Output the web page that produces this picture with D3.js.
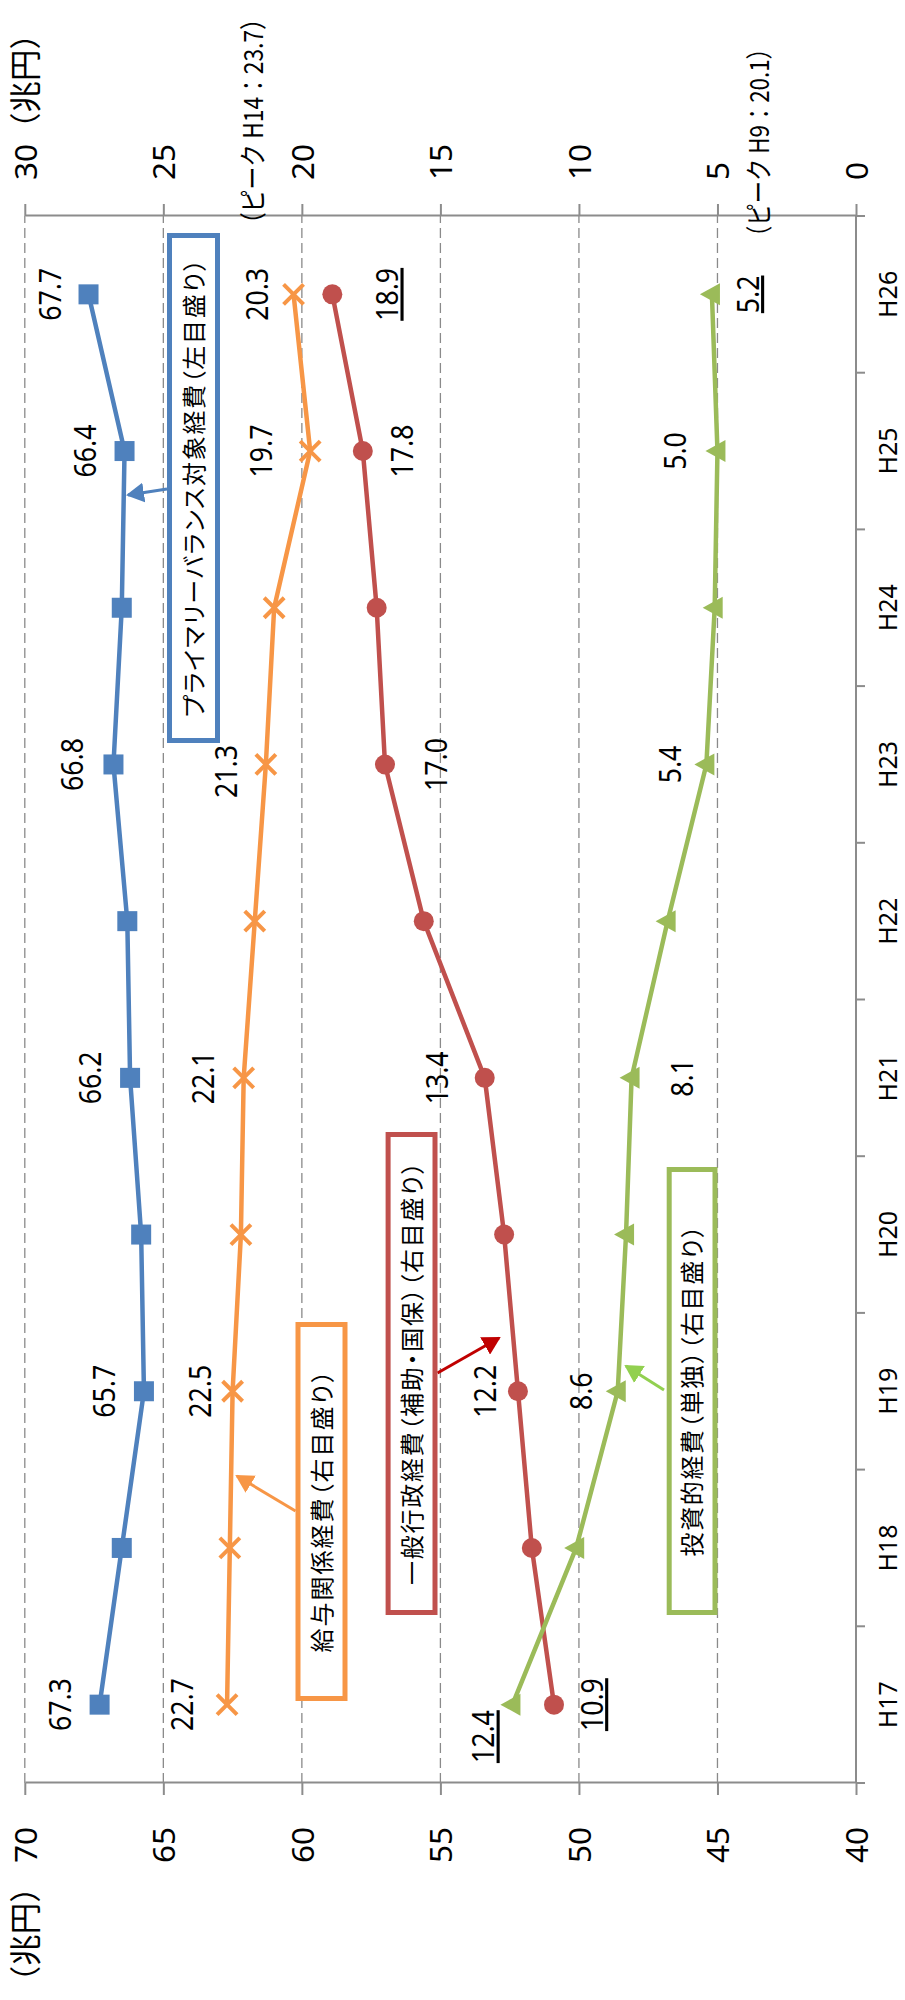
<!DOCTYPE html>
<html>
<head>
<meta charset="utf-8">
<script src="https://cdn.jsdelivr.net/npm/d3@7"></script>
<style>
  body { margin: 0; background: #fff; }
  svg { display: block; }
</style>
</head>
<body>
<svg id="chart" width="905" height="2000"></svg>
<script>
// Fiscal years (Heisei) and spending series, in trillion yen
const categories = ["H17", "H18", "H19", "H20", "H21", "H22", "H23", "H24", "H25", "H26"];
const primaryBalance = [67.3, 66.5, 65.7, 65.8, 66.2, 66.3, 66.8, 66.5, 66.4, 67.7]; // left axis
const salaryCosts    = [22.7, 22.6, 22.5, 22.2, 22.1, 21.7, 21.3, 21.0, 19.7, 20.3]; // right axis
const generalAdmin   = [10.9, 11.7, 12.2, 12.7, 13.4, 15.6, 17.0, 17.3, 17.8, 18.9]; // right axis
const investment     = [12.4, 10.1, 8.6, 8.3, 8.1, 6.8, 5.4, 5.1, 5.0, 5.2];          // right axis

const labelledYears = ["H17", "H19", "H21", "H23", "H25", "H26"];
const underlinedYears = ["H17", "H26"];
const leftTicks = [40, 45, 50, 55, 60, 65, 70];
const rightTicks = [0, 5, 10, 15, 20, 25, 30];
const seriesNames = [
  "プライマリーバランス対象経費（左目盛り）",
  "給与関係経費（右目盛り）",
  "一般行政経費（補助・国保）（右目盛り）",
  "投資的経費（単独）（右目盛り）"
];
const peakNotes = ["（ピーク H14：23.7）", "（ピーク H9：20.1）"];

// The chart is laid out in landscape (2000 x 905) and turned a quarter turn.
const W = 2000, H = 905;
const plot = { left: 217, right: 1784, top: 24.8, bottom: 856 };
const latin = "'Noto Sans', 'Noto Sans CJK JP', sans-serif";
const cjk = "'Noto Sans CJK JP', 'Noto Sans', sans-serif";
const axisGray = "#8c8c8c";

const svg = d3.select("#chart");
const g = svg.append("g").attr("transform", `translate(0,${W}) rotate(-90)`);

const defs = svg.append("defs");

const x = d3.scaleBand().domain(categories).range([plot.left, plot.right]);
const cx = c => x(c) + x.bandwidth() / 2;
const yL = d3.scaleLinear().domain([40, 70]).range([plot.bottom, plot.top]);
const yR = d3.scaleLinear().domain([0, 30]).range([plot.bottom, plot.top]);

// dashed gridlines
g.append("g").selectAll("line")
  .data(leftTicks.filter(v => v > 40))
  .join("line")
  .attr("x1", plot.left).attr("x2", plot.right)
  .attr("y1", d => yL(d)).attr("y2", d => yL(d))
  .attr("stroke", "#8a8a8a").attr("stroke-width", 1.3)
  .attr("stroke-dasharray", "10,5");

function styleAxis(sel, size) {
  sel.selectAll(".domain").attr("stroke", axisGray).attr("stroke-width", 2);
  sel.selectAll(".tick line").attr("stroke", axisGray).attr("stroke-width", 2);
  sel.selectAll(".tick text")
    .attr("fill", "#000")
    .style("font-family", latin)
    .style("font-size", size + "px");
}

// left value axis
const axL = g.append("g").attr("transform", `translate(${plot.left},0)`)
  .call(d3.axisLeft(yL).tickValues(leftTicks).tickSize(12).tickSizeOuter(0).tickPadding(32)
    .tickFormat(d => d === 70 ? "（兆円） 70" : d));
styleAxis(axL, 31.5);
axL.selectAll(".tick text").attr("dy", "0.36em");

// right value axis
const axR = g.append("g").attr("transform", `translate(${plot.right},0)`)
  .call(d3.axisRight(yR).tickValues(rightTicks).tickSize(12).tickSizeOuter(0).tickPadding(24)
    .tickFormat(d => d === 30 ? "30（兆円）" : d));
styleAxis(axR, 31.5);
axR.selectAll(".tick text").attr("dy", "0.36em");

// category axis: labels at band centres, ticks on band boundaries
const axB = g.append("g").attr("transform", `translate(0,${plot.bottom})`)
  .call(d3.axisBottom(x).tickSize(0).tickPadding(23));
styleAxis(axB, 25);
axB.selectAll(".domain").attr("d", `M${plot.left},0H${plot.right}`);
axB.selectAll(".tick text").attr("dy", "0.71em");
axB.append("g").selectAll("line")
  .data(categories.map(c => x(c)).concat([plot.right]))
  .join("line")
  .attr("x1", d => d).attr("x2", d => d)
  .attr("y1", 0).attr("y2", 9)
  .attr("stroke", axisGray).attr("stroke-width", 2);

// series definitions
const series = [
  { values: primaryBalance, scale: yL, color: "#4F81BD", marker: "square",
    dx: [0, 0, 0, 0, 0, 0], dy: [-29, -29, -29, -30, -29, -28] },
  { values: salaryCosts, scale: yR, color: "#F79646", marker: "cross",
    dx: [0, 0, 0, -7, 0, 0], dy: [-34, -22, -30, -29, -38, -26] },
  { values: generalAdmin, scale: yR, color: "#C0504D", marker: "circle", underline: true,
    dx: [0, 0, 0, 0, 0, 0], dy: [49, -22, -37, 62, 50, 66] },
  { values: investment, scale: yR, color: "#9BBB59", marker: "triangle", underline: true,
    dx: [-32, 0, 0, 0, 0, 0], dy: [-18, -26, 61, -25, -31, 47] }
];

series.forEach(s => {
  const pts = s.values.map((v, i) => ({ c: categories[i], v }));
  const sg = g.append("g");
  sg.append("path")
    .datum(pts)
    .attr("fill", "none")
    .attr("stroke", s.color)
    .attr("stroke-width", 4.5)
    .attr("stroke-linejoin", "round")
    .attr("d", d3.line().x(d => cx(d.c)).y(d => s.scale(d.v)));

  const m = sg.selectAll("g.pt").data(pts).join("g")
    .attr("transform", d => `translate(${cx(d.c)},${s.scale(d.v)})`);
  if (s.marker === "square") {
    m.append("rect").attr("x", -10).attr("y", -10).attr("width", 20).attr("height", 20).attr("fill", s.color);
  } else if (s.marker === "cross") {
    m.append("path").attr("d", "M-10,-10L10,10M-10,10L10,-10")
      .attr("stroke", s.color).attr("stroke-width", 4).attr("fill", "none");
  } else if (s.marker === "circle") {
    m.append("circle").attr("r", 10).attr("fill", s.color);
  } else {
    m.append("path").attr("d", "M0,-12L11,8L-11,8Z").attr("fill", s.color);
  }

  // value labels
  labelledYears.forEach((c, k) => {
    const i = categories.indexOf(c);
    const v = s.values[i];
    const t = g.append("text")
      .attr("transform", `translate(${cx(c) + s.dx[k]},${s.scale(v) + s.dy[k]}) scale(0.86,1)`)
      .attr("text-anchor", "middle")
      .attr("fill", "#000")
      .style("font-family", latin)
      .style("font-size", "31px")
      .text(v.toFixed(1));
    if (s.underline && underlinedYears.includes(c)) t.style("text-decoration", "underline");
  });
});

// peak notes next to the right axis, condensed to their target run length
[[peakNotes[0], 1765, 263, 228], [peakNotes[1], 1752, 769, 211]].forEach(([txt, px, py, len]) => {
  const t = g.append("text")
    .attr("fill", "#000")
    .style("font-family", cjk)
    .style("font-size", "27px")
    .text(txt);
  const natural = t.node().getComputedTextLength() || len;
  t.attr("transform", `translate(${px},${py}) scale(${len / natural},1)`);
});

// callout boxes with leader arrows
const callouts = [
  { text: seriesNames[0], color: "#4F81BD", arrow: "#4F81BD", box: [1257, 1767, 167, 220], len: 458, lead: [[1511, 167], [1505, 128]] },
  { text: seriesNames[1], color: "#F79646", arrow: "#F79646", box: [299, 678, 295.5, 347.5], len: 282, lead: [[489, 295.5], [524, 237]] },
  { text: seriesNames[2], color: "#C0504D", arrow: "#C00000", box: [385, 868, 385.6, 437.5], len: 423, lead: [[627, 437.5], [662, 499]] },
  { text: seriesNames[3], color: "#9BBB59", arrow: "#92D050", box: [385, 833, 666.7, 717.5], len: 331, lead: [[610, 664], [634, 626]] }
];

callouts.forEach((co, i) => {
  const id = "arrowhead" + i;
  defs.append("marker")
    .attr("id", id)
    .attr("viewBox", "0 0 18 20")
    .attr("refX", 16).attr("refY", 10)
    .attr("markerWidth", 18).attr("markerHeight", 20)
    .attr("markerUnits", "userSpaceOnUse")
    .attr("orient", "auto")
    .append("path").attr("d", "M0,0L18,10L0,20Z").attr("fill", co.arrow);

  g.append("line")
    .attr("x1", co.lead[0][0]).attr("y1", co.lead[0][1])
    .attr("x2", co.lead[1][0]).attr("y2", co.lead[1][1])
    .attr("stroke", co.arrow).attr("stroke-width", 3)
    .attr("marker-end", `url(#${id})`);

  const [x0, x1, y0, y1] = co.box;
  g.append("rect")
    .attr("x", x0 + 2.5).attr("y", y0 + 2.5)
    .attr("width", x1 - x0 - 5).attr("height", y1 - y0 - 5)
    .attr("fill", "#fff")
    .attr("stroke", co.color).attr("stroke-width", 5);
  g.append("text")
    .attr("x", (x0 + x1) / 2).attr("y", (y0 + y1) / 2 + 9)
    .attr("text-anchor", "middle")
    .attr("textLength", co.len).attr("lengthAdjust", "spacing")
    .attr("fill", "#000")
    .style("font-family", cjk)
    .style("font-feature-settings", "'palt'")
    .style("font-size", "24px")
    .text(co.text);
});
</script>
</body>
</html>
